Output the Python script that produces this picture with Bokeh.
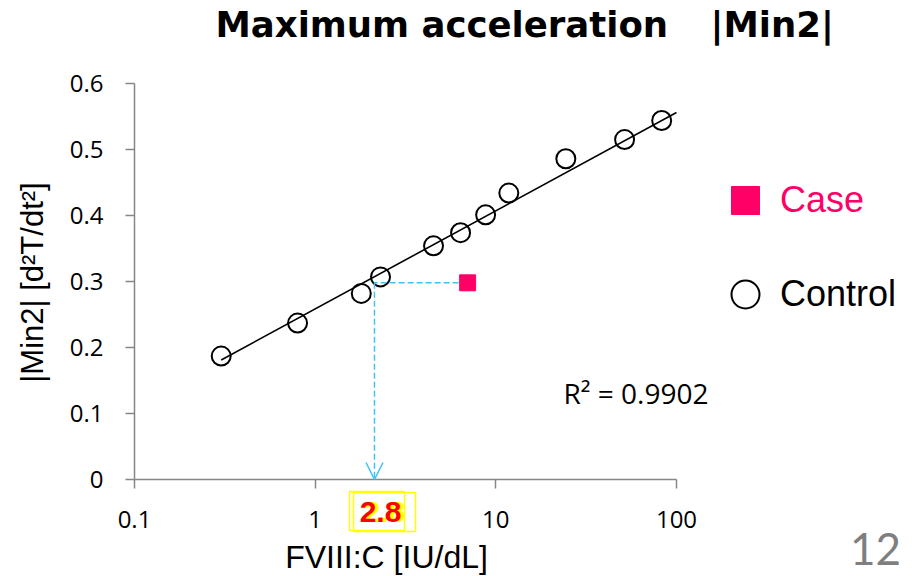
import numpy as np
from bokeh.plotting import figure
from bokeh.models import (Range1d, FixedTicker, CustomJSTickFormatter, Label, Legend,
                          LegendItem, Arrow, OpenHead, BoxAnnotation, LogAxis, LinearAxis,
                          LogScale)
from bokeh.embed import file_html
from bokeh.resources import INLINE

# ---------------- data ----------------
control_x = [0.302, 0.799, 1.80, 2.30, 4.52, 6.38, 8.78, 11.8, 24.4, 51.6, 82.8]
control_y = [0.187, 0.237, 0.282, 0.307, 0.354, 0.374, 0.401, 0.434, 0.486, 0.515, 0.544]
case_x = [6.98]
case_y = [0.298]
read_x = 2.13              # where the dashed read-off line meets the x axis
read_label = "2.8"
trend_x = [0.302, 100.0]
trend_intercept = 0.2584   # y = a + b*log10(x)
trend_slope = 0.1488
r2_text = "R\u00b2 = 0.9902"
x_ticks = [0.1, 1, 10, 100]
y_ticks = [0, 0.1, 0.2, 0.3, 0.4, 0.5, 0.6]
x_bounds = (0.1, 100)
y_bounds = (0, 0.6)

trend_y = [trend_intercept + trend_slope * np.log10(v) for v in trend_x]

# ---------------- layout: the frame fills the page; axes sit at fixed spots ----------------
W, H = 919, 576
AX_L, AX_R, AX_T, AX_B = 134, 676, 83, 479        # page pixels of the axes box
DEC = (AX_R - AX_L) / 3.0                          # pixels per decade
YPX = (AX_B - AX_T) / 0.6                          # pixels per unit y
x_lo = 10 ** (np.log10(x_bounds[0]) - AX_L / DEC)
x_hi = 10 ** (np.log10(x_bounds[1]) + (W - AX_R) / DEC)
y_lo = y_bounds[0] - (H - AX_B) / YPX
y_hi = y_bounds[1] + AX_T / YPX

p = figure(width=W, height=H, x_axis_type=None, y_axis_type=None,
           x_range=Range1d(x_lo, x_hi), y_range=Range1d(y_lo, y_hi),
           output_backend="svg", toolbar_location=None, title=None,
           min_border=0)
p.x_scale = LogScale()
p.outline_line_color = None
p.background_fill_color = "white"
p.border_fill_color = "white"

fmt = CustomJSTickFormatter(code="return String(Number(tick.toPrecision(6)));")
xaxis = LogAxis(ticker=FixedTicker(ticks=x_ticks), formatter=fmt,
                fixed_location=y_bounds[0], bounds=x_bounds)
yaxis = LinearAxis(ticker=FixedTicker(ticks=y_ticks), formatter=fmt,
                   fixed_location=x_bounds[0], bounds=y_bounds)
for ax in (xaxis, yaxis):
    ax.axis_line_color = "#868686"
    ax.axis_line_width = 1.5
    ax.major_tick_line_color = "#868686"
    ax.major_tick_line_width = 1.5
    ax.major_tick_out = 9
    ax.major_tick_in = 0
    ax.minor_tick_line_color = None
    ax.major_label_text_font = "Open Sans"
    ax.major_label_text_font_size = "24px"
    ax.major_label_text_color = "black"
xaxis.major_label_standoff = 22
yaxis.major_label_standoff = 22
p.add_layout(xaxis, "below")
p.add_layout(yaxis, "left")

BLUE = "#3EC3F2"
PINK = "#FF0066"

# trend line
p.line(trend_x, trend_y, line_color="black", line_width=1.6)

# read-off dashed lines
p.line([case_x[0], read_x], [case_y[0], case_y[0]], line_color=BLUE, line_width=1.5,
       line_dash="6 3")
p.add_layout(Arrow(end=OpenHead(size=17, line_color=BLUE, line_width=1.5),
                   x_start=read_x, y_start=case_y[0], x_end=read_x, y_end=0,
                   line_color=BLUE, line_width=1.5, line_dash="6 3"))

ctrl = p.scatter(control_x, control_y, marker="circle", size=19, line_color="black",
                 line_width=2, fill_alpha=0)
case = p.scatter(case_x, case_y, marker="square", size=16, fill_color=PINK,
                 line_color=PINK)

# legends (one per entry so each label keeps its own colour)
def make_legend(label, r, color, center_y):
    box = 70
    bottom = center_y + box / 2
    return Legend(items=[LegendItem(label=label, renderers=[r])],
                  location=(710, H - bottom), glyph_width=box, glyph_height=box,
                  label_standoff=-11, padding=0, margin=0, border_line_color=None,
                  background_fill_alpha=0, label_text_font="Liberation Sans",
                  label_text_font_size="36px", label_text_color=color)

p.add_layout(make_legend("Case", case, PINK, 200))
p.add_layout(make_legend("Control", ctrl, "black", 294))

def lab(text, cx, cy, **kw):
    kw.setdefault("text_color", "black")
    kw.setdefault("text_baseline", "middle")
    p.add_layout(Label(text=text, x=cx, y=H - cy, x_units="screen",
                       y_units="screen", **kw))

# title
lab("Maximum acceleration", 215, 24, text_font="DejaVu Sans", text_font_style="bold",
    text_font_size="35.5px", text_align="left")
lab("|Min2|", 710, 24, text_font="DejaVu Sans", text_font_style="bold",
    text_font_size="35.5px", text_align="left")

# axis titles
lab("FVIII:C [IU/dL]", 386, 556, text_font="Liberation Sans", text_font_size="32px",
    text_align="center")
lab("|Min2| [d\u00b2T/dt\u00b2]", 32, 282, text_font="Liberation Sans",
    text_font_size="31px", text_align="center", angle=np.pi / 2)

# R^2
lab(r2_text, 563, 392, text_font="Open Sans", text_font_size="28px", text_align="left")

# page number
lab("12", 875, 548, text_font="Lato", text_font_size="44px", text_color="#7F7F7F",
    text_align="center")

# 2.8 highlight
for (l, r, t, b) in [(349, 404, 491, 530), (353, 415, 492, 531)]:
    p.add_layout(BoxAnnotation(left=l, right=r, top=H - t, bottom=H - b,
                               left_units="screen", right_units="screen",
                               top_units="screen", bottom_units="screen",
                               fill_alpha=0, line_color="#FFFF00", line_alpha=1,
                               line_width=1.5))
lab(read_label, 384, 511, text_font="Liberation Sans", text_font_style="bold",
    text_font_size="30px", text_color="#FFFF00", text_align="center")
lab(read_label, 380, 511, text_font="Liberation Sans", text_font_style="bold",
    text_font_size="30px", text_color="#FF0000", text_align="center")

open("out.html", "w").write(file_html(p, INLINE))
